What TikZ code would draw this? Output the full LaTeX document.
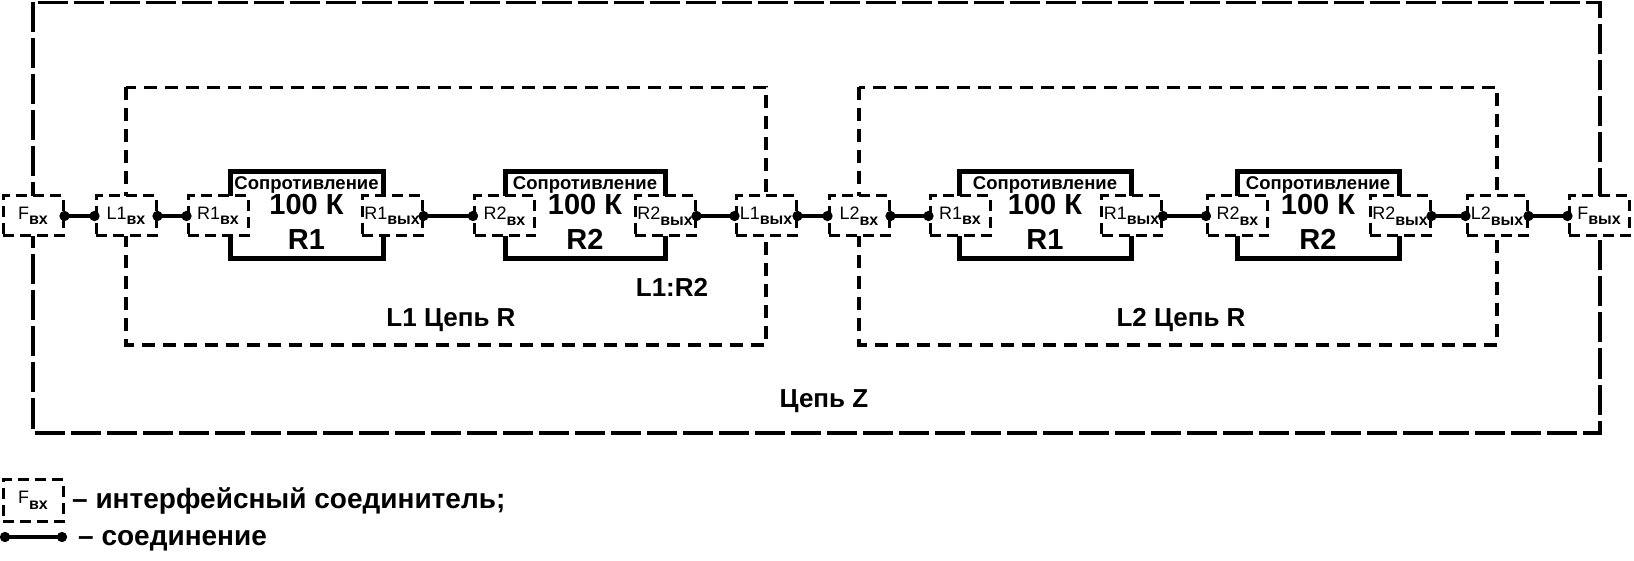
\documentclass[tikz,border=0pt]{standalone}
\usepackage{fontspec}
\setmainfont{Liberation Sans}
\usetikzlibrary{arrows.meta}
\newcommand\psub[1]{\raisebox{-5.5pt}{\fontsize{16}{16}\selectfont\bfseries #1}}
\begin{document}
\begin{tikzpicture}[x=1pt,y=-1pt,
 outerbox/.style={line width=3.5pt, dash pattern=on 30pt off 6pt},
 chainbox/.style={line width=3.5pt, dash pattern=on 13pt off 8pt},
 portbox/.style={draw, fill=white, line width=3pt, dash pattern=on 11pt off 6pt, minimum width=60pt, minimum height=40pt, inner sep=0pt, font=\fontsize{18}{18}\selectfont},
 resframe/.style={draw, line width=5pt, inner sep=0pt},
 conn/.style={line width=4pt, {Circle[length=10pt]}-{Circle[length=10pt]}, shorten <=-5pt, shorten >=-5pt},
 restitle/.style={font=\bfseries\fontsize{18.5}{19}\selectfont, anchor=base, inner sep=0pt},
 resval/.style={font=\bfseries\fontsize{29}{29}\selectfont, anchor=base, inner sep=0pt},
 biglabel/.style={font=\bfseries\fontsize{26}{26}\selectfont, anchor=base, inner sep=0pt},
 legendtext/.style={font=\bfseries\fontsize{28}{28}\selectfont, anchor=base west, inner sep=0pt},
]
\useasboundingbox (0,0) rectangle (1634,561);
% containers
\draw[outerbox] (33,2.5) rectangle (1600,433);
\draw[chainbox] (126,87.5) rectangle (766,345);
\draw[chainbox] (859,87.5) rectangle (1497,345);
% resistor frames
\node[resframe, minimum width=153pt, minimum height=87pt] (fa) at (306.5,215.5) {};
\node[resframe, minimum width=160pt, minimum height=87pt] (fb) at (585,215.5) {};
\node[resframe, minimum width=172pt, minimum height=87pt] (fc) at (1045,215.5) {};
\node[resframe, minimum width=162pt, minimum height=87pt] (fd) at (1318,215.5) {};
\node[restitle] (ta) at (306.5,190) {Сопротивление};
\node[restitle] (tb) at (585,190) {Сопротивление};
\node[restitle] (tc) at (1045,190) {Сопротивление};
\node[restitle] (td) at (1318,190) {Сопротивление};
\node[resval] (va) at (306.5,215) {100 К};
\node[resval] (vb) at (585,215) {100 К};
\node[resval] (vc) at (1045,215) {100 К};
\node[resval] (vd) at (1318,215) {100 К};
\node[resval] (na) at (306.5,250) {R1};
\node[resval] (nb) at (585,250) {R2};
\node[resval] (nc) at (1045,250) {R1};
\node[resval] (nd) at (1318,250) {R2};
% labels
\node[biglabel] (lr) at (672,297) {L1:R2};
\node[biglabel] (l1t) at (451,327) {L1 Цепь R};
\node[biglabel] (l2t) at (1181,327) {L2 Цепь R};
\node[biglabel] (zt) at (824,407) {Цепь Z};
% ports
\node[portbox] (fin) at (33,216) {F\psub{вх}};
\node[portbox] (l1in) at (126,216) {L1\psub{вх}};
\node[portbox] (r1in) at (218,216) {R1\psub{вх}};
\node[portbox] (r1out) at (392,216) {R1\psub{вых}};
\node[portbox] (r2in) at (504.5,216) {R2\psub{вх}};
\node[portbox] (r2out) at (665,216) {R2\psub{вых}};
\node[portbox] (l1out) at (766,216) {L1\psub{вых}};
\node[portbox] (l2in) at (859,216) {L2\psub{вх}};
\node[portbox] (s1in) at (960,216) {R1\psub{вх}};
\node[portbox] (s1out) at (1131.5,216) {R1\psub{вых}};
\node[portbox] (s2in) at (1237.5,216) {R2\psub{вх}};
\node[portbox] (s2out) at (1400,216) {R2\psub{вых}};
\node[portbox] (l2out) at (1497,216) {L2\psub{вых}};
\node[portbox] (fout) at (1599,216) {F\psub{вых}};
% connections
\draw[conn] (fin.east) -- (l1in.west);
\draw[conn] (l1in.east) -- (r1in.west);
\draw[conn] (r1out.east) -- (r2in.west);
\draw[conn] (r2out.east) -- (l1out.west);
\draw[conn] (l1out.east) -- (l2in.west);
\draw[conn] (l2in.east) -- (s1in.west);
\draw[conn] (s1out.east) -- (s2in.west);
\draw[conn] (s2out.east) -- (l2out.west);
\draw[conn] (l2out.east) -- (fout.west);
% legend
\node[portbox, minimum height=42pt] (lgbox) at (33,500.5) {F\psub{вх}};
\node[legendtext] (lgt1) at (72,508) {– интерфейсный соединитель;};
\coordinate (lga) at (5,537);
\coordinate (lgb) at (62,537);
\draw[conn] (lga) -- (lgb);
\node[legendtext] (lgt2) at (78,545) {– соединение};
\end{tikzpicture}
\end{document}
